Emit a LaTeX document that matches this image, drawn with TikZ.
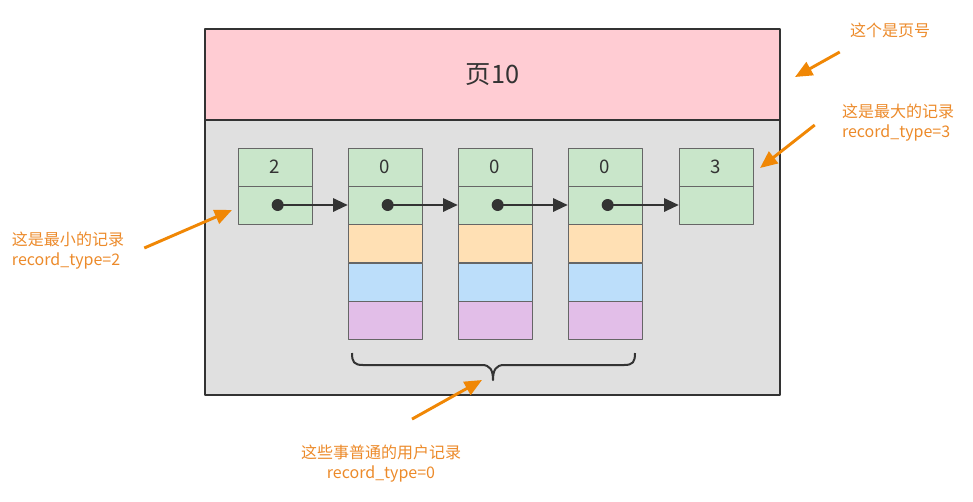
\documentclass[tikz,border=0pt]{standalone}
\usepackage{fontspec}
\setmainfont{Noto Sans CJK SC}
\usetikzlibrary{arrows.meta}
\definecolor{hdrpink}{HTML}{FFCCD3}
\definecolor{bodygray}{HTML}{E0E0E0}
\definecolor{recgreen}{HTML}{C9E6CA}
\definecolor{recorange}{HTML}{FFE0B4}
\definecolor{recblue}{HTML}{BCDEFA}
\definecolor{recpurple}{HTML}{E2BEE8}
\definecolor{notetext}{HTML}{EC8A2A}
\definecolor{notearrow}{HTML}{F08705}
\definecolor{ink}{HTML}{333333}
\begin{document}
\begin{tikzpicture}[x=0.75pt, y=-0.75pt, line join=round, >=Stealth,
	cell/.style={draw=black!60, minimum width=55.5pt, minimum height=28.5pt, inner sep=0pt, text=ink, font=\fontsize{14}{16}\selectfont},
	note/.style={text=notetext, inner sep=0pt, font=\fontsize{12}{15}\selectfont},
	callout/.style={draw=notearrow, line width=2.2pt, -{Triangle[length=13pt, width=11pt]}}]
	\useasboundingbox (0,0) rectangle (973,501);
	% the page
	\draw[ink, line width=1.1pt, fill=bodygray] (205,120) rectangle (780,395);
	\node[draw=ink, line width=1.1pt, fill=hdrpink, minimum width=431.25pt, minimum height=68.25pt, text=ink, font=\fontsize{19}{22}\selectfont] (hdr) at (492.5,74.5) {页10};
	% records
	\foreach \i/\x/\v in {0/275/2, 1/385/0, 2/495/0, 3/605/0, 4/716/3}{
		\node[cell, fill=recgreen] (r\i-a) at (\x,167) {\v};
		\node[cell, fill=recgreen] (r\i-b) at (\x,205) {};
	}
	\foreach \i in {1,2,3}{
		\node[cell, fill=recorange] (r\i-c) at (r\i-b.south) [anchor=north] {};
		\node[cell, fill=recblue] (r\i-d) at (r\i-c.south) [anchor=north] {};
		\node[cell, fill=recpurple] (r\i-e) at (r\i-d.south) [anchor=north] {};
	}
	% next pointers
	\foreach \i/\j in {0/1, 1/2, 2/3, 3/4}{
		\fill[ink] ([xshift=2pt]r\i-b.center) circle (4.5pt);
		\draw[ink, line width=1.5pt, -{Triangle[length=11pt, width=10pt]}] ([xshift=2pt]r\i-b.center) -- (r\j-b.west);
	}
	% brace under the user records
	\draw[ink, line width=1.5pt] (352,353) .. controls (352,362) and (354,365) .. (363,365)
		-- (482,365) .. controls (490,365) and (493,370) .. (493,380)
		.. controls (493,370) and (496,365) .. (504,365)
		-- (624,365) .. controls (633,365) and (635,362) .. (635,353);
	% notes
	\node[note] (pgno) at (890,30) {这个是页号};
	\node[note, align=left] (maxnote) at (898,123) {这是最大的记录\\record\_type=3};
	\node[note, align=left] (minnote) at (68,251) {这是最小的记录\\record\_type=2};
	\node[note, align=center] (usrnote) at (381,464) {这些事普通的用户记录\\record\_type=0};
	\coordinate (pgno-tip) at (795,77);
	\coordinate (maxnote-tip) at (760,168);
	\coordinate (minnote-tip) at (232,210);
	\coordinate (usrnote-tip) at (482,380);
	\draw[callout] ([shift={(-10,22)}]pgno.west) -- (pgno-tip);
	\draw[callout] ([shift={(-27,2)}]maxnote.west) -- (maxnote-tip);
	\draw[callout] ([shift={(20,-3)}]minnote.east) -- (minnote-tip);
	\draw[callout] ([shift={(31,-26)}]usrnote.north) -- (usrnote-tip);
\end{tikzpicture}
\end{document}
